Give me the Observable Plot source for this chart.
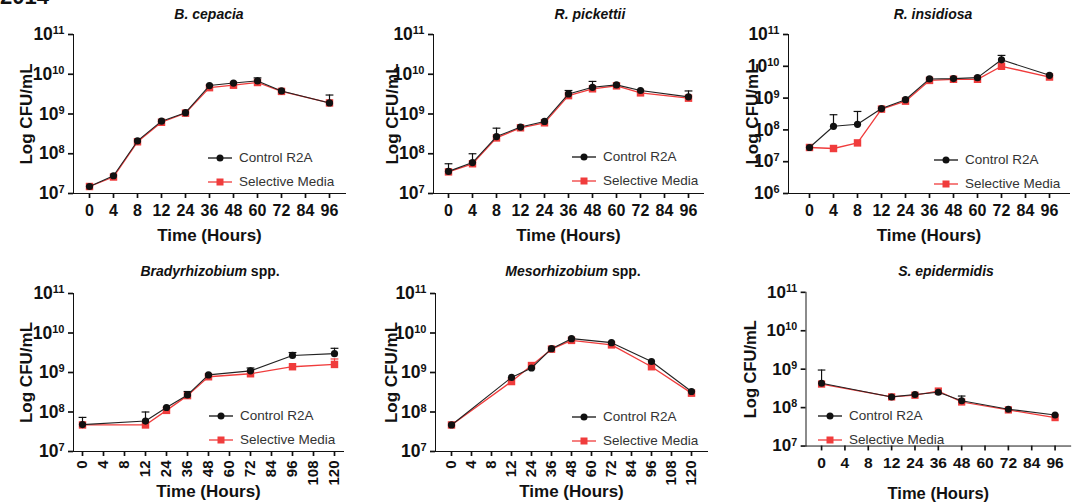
<!DOCTYPE html>
<html><head><meta charset="utf-8">
<script src="https://cdn.jsdelivr.net/npm/d3@7"></script>
<script src="https://cdn.jsdelivr.net/npm/@observablehq/plot@0.6"></script>
<style>
body{margin:0;width:1076px;height:504px;overflow:hidden;background:#fff;position:relative;font-family:Arial,"Liberation Sans",sans-serif}
.panel{position:absolute}
.ttl{position:absolute;transform:translateX(-50%);white-space:nowrap;font:bold 14px Arial,"Liberation Sans",sans-serif;color:#111}
.ttl i{font-style:italic}
.leg{position:absolute;font:13.5px Arial,"Liberation Sans",sans-serif;color:#333;line-height:24px}
.leg div{display:flex;align-items:center;white-space:nowrap}
.leg svg{margin-right:6px}
.year{position:absolute;left:0;top:-16px;font:bold 22px Arial,"Liberation Sans",sans-serif;color:#111}
</style></head>
<body>
<div class="year">2014</div>
<script>
// ---------- data ----------
const ticks96  = [0,4,8,12,24,36,48,60,72,84,96];
const ticks120 = [0,4,8,12,24,36,48,60,72,84,96,108,120];
const yTicks7  = [1e7,1e8,1e9,1e10,1e11];
const yTicks6  = [1e6,1e7,1e8,1e9,1e10,1e11];
const seriesNames = ["Control R2A","Selective Media"];

const cepaciaHours = [0,4,8,12,24,36,48,60,72,96];
const cepaciaControl   = [1.5e7,2.8e7,2.1e8,6.6e8,1.08e9,5.2e9,6.0e9,6.8e9,3.8e9,1.9e9];
const cepaciaSelective = [1.5e7,2.6e7,2.0e8,6.2e8,1.05e9,4.6e9,5.3e9,6.2e9,3.7e9,1.9e9];
const cepaciaUpper     = [null,null,null,null,null,null,null,8.1e9,null,3.0e9];

const pickettiiHours = [0,4,8,12,24,36,48,60,72,96];
const pickettiiControl   = [3.6e7,6.0e7,2.7e8,4.7e8,6.5e8,3.2e9,4.7e9,5.4e9,3.9e9,2.7e9];
const pickettiiSelective = [3.5e7,5.6e7,2.5e8,4.5e8,6.0e8,2.9e9,4.3e9,5.1e9,3.4e9,2.5e9];
const pickettiiUpper     = [5.6e7,1.0e8,4.4e8,null,null,3.9e9,6.6e9,null,null,3.8e9];

const insidiosaHours = [0,4,8,12,24,36,48,60,72,96];
const insidiosaControl   = [2.8e7,1.3e8,1.5e8,4.7e8,8.9e8,4.0e9,4.1e9,4.4e9,1.6e10,5.2e9];
const insidiosaSelective = [2.8e7,2.6e7,3.9e7,4.5e8,8.0e8,3.6e9,3.9e9,3.9e9,1.0e10,4.6e9];
const insidiosaUpper     = [null,3.0e8,3.8e8,null,null,null,null,null,2.2e10,null];

const bradyHours = [0,12,24,36,48,72,96,120];
const bradyControl   = [4.8e7,5.9e7,1.3e8,2.7e8,8.7e8,1.1e9,2.7e9,3.0e9];
const bradySelective = [4.7e7,4.7e7,1.1e8,2.6e8,7.8e8,9.3e8,1.4e9,1.6e9];
const bradyUpper     = [7.3e7,1.0e8,null,3.3e8,null,1.3e9,3.2e9,4.1e9];
const bradySelUpper  = [null,null,null,null,null,null,null,2.2e9];

const mesoHours = [0,12,24,36,48,72,96,120];
const mesoControl   = [4.7e7,7.5e8,1.3e9,4.0e9,7.2e9,5.7e9,1.9e9,3.3e8];
const mesoSelective = [4.7e7,5.9e8,1.5e9,3.9e9,6.5e9,5.0e9,1.4e9,3.0e8];
const mesoUpper     = [null,null,null,null,null,null,null,null];

const epiHours = [0,12,24,36,48,72,96];
const epiControl   = [4.3e8,1.9e8,2.2e8,2.5e8,1.5e8,9.1e7,6.4e7];
const epiSelective = [4.1e8,1.9e8,2.1e8,2.7e8,1.4e8,8.7e7,5.5e7];
const epiUpper     = [9.5e8,null,null,null,2.0e8,null,null];

// ---------- layout ----------
const RED = "#f03c3c", BLACK = "#111";
const panels = [
  {title:"<i>B. cepacia</i>", hours:cepaciaHours, ctrl:cepaciaControl, sel:cepaciaSelective, up:cepaciaUpper,
   xt:ticks96, yt:yTicks7, left:0, top:0, w:358, h:250, ml:73, mr:13, mt:34, mb:57, pad:0.5, rot:0, yoff:54, xoff:47, tp:6,
   tx:209, ty:6, lx:207, ly:146},
  {title:"<i>R. pickettii</i>", hours:pickettiiHours, ctrl:pickettiiControl, sel:pickettiiSelective, up:pickettiiUpper,
   xt:ticks96, yt:yTicks7, left:360, top:0, w:358, h:250, ml:73, mr:15, mt:34, mb:57, pad:0.5, rot:0, yoff:48, xoff:47, tp:6,
   tx:590, ty:6, lx:571, ly:145},
  {title:"<i>R. insidiosa</i>", hours:insidiosaHours, ctrl:insidiosaControl, sel:insidiosaSelective, up:insidiosaUpper,
   xt:ticks96, yt:yTicks6, left:716, top:0, w:360, h:250, ml:72, mr:7, mt:34, mb:57, pad:0.8, rot:0, yoff:43, xoff:47, tp:6,
   tx:933, ty:6, lx:933, ly:148},
  {title:"<i>Bradyrhizobium</i> spp.", hours:bradyHours, ctrl:bradyControl, sel:bradySelective, up:bradyUpper, selUp:bradySelUpper,
   xt:ticks120, yt:yTicks7, left:0, top:250, w:358, h:254, ml:73, mr:15, mt:43, mb:53, pad:0.35, rot:-90, yoff:54, xoff:45, tp:4,
   tx:210, ty:263, lx:208, ly:404},
  {title:"<i>Mesorhizobium</i> spp.", hours:mesoHours, ctrl:mesoControl, sel:mesoSelective, up:mesoUpper,
   xt:ticks120, yt:yTicks7, left:360, top:250, w:358, h:254, ml:75, mr:11, mt:43, mb:53, pad:0.5, rot:-90, yoff:51, xoff:45, tp:4,
   tx:573, ty:263, lx:571, ly:405},
  {title:"<i>S. epidermidis</i>", hours:epiHours, ctrl:epiControl, sel:epiSelective, up:epiUpper,
   xt:ticks96, yt:yTicks7, left:716, top:250, w:370, h:254, ml:92, mr:6, mt:43, mb:53, pad:0.48, rot:0, yoff:63, xoff:54, tp:6,
   tx:946, ty:263, lx:817, ly:404}
];

const cap = {draw(ctx, size){ const w = Math.sqrt(size) * 0.55; ctx.moveTo(-w,0); ctx.lineTo(w,0); }};

function swatch(color, square){
  const ns = "http://www.w3.org/2000/svg";
  const s = document.createElementNS(ns,"svg");
  s.setAttribute("width",26); s.setAttribute("height",10);
  s.innerHTML = `<line x1="1" y1="5" x2="25" y2="5" stroke="${color}" stroke-width="1.3"/>` +
    (square ? `<rect x="9.5" y="1.5" width="7" height="7" fill="${color}"/>` : `<circle cx="13" cy="5" r="3.5" fill="${color}"/>`);
  return s;
}

for (const p of panels) {
  const ctrlData = p.hours.map((h,i)=>({h, v:p.ctrl[i], u:p.up[i]}));
  const selData  = p.hours.map((h,i)=>({h, v:p.sel[i], u:p.selUp ? p.selUp[i] : null}));
  const ctrlErr = ctrlData.filter(d=>d.u != null);
  const selErr  = selData.filter(d=>d.u != null);
  const chart = Plot.plot({
    width:p.w, height:p.h,
    marginLeft:p.ml, marginRight:p.mr, marginTop:p.mt, marginBottom:p.mb,
    style:{fontFamily:"Arial, 'Liberation Sans', sans-serif", fontSize:"15px", fontWeight:"bold", color:"#111", background:"transparent", overflow:"visible"},
    x:{type:"point", domain:p.xt, padding:p.pad, line:true, tickSize:5, tickPadding:p.tp, tickRotate:p.rot,
       label:"Time (Hours)", labelAnchor:"center", labelOffset:p.xoff, labelArrow:false},
    y:{type:"log", domain:[p.yt[0], p.yt[p.yt.length-1]], ticks:p.yt, line:true, tickSize:5, tickPadding:4,
       tickFormat:d=>"10^"+Math.round(Math.log10(d)),
       label:"Log CFU/mL", labelAnchor:"center", labelOffset:p.yoff, labelArrow:false},
    marks:[
      Plot.ruleX(selErr, {x:"h", y1:"v", y2:"u", stroke:RED, strokeWidth:1.2}),
      Plot.dot(selErr, {x:"h", y:"u", symbol:cap, r:4, stroke:RED, strokeWidth:1.2}),
      Plot.line(selData, {x:"h", y:"v", stroke:RED, strokeWidth:1.3}),
      Plot.dot(selData, {x:"h", y:"v", symbol:"square", r:4.2, fill:RED}),
      Plot.ruleX(ctrlErr, {x:"h", y1:"v", y2:"u", stroke:BLACK, strokeWidth:1.2}),
      Plot.dot(ctrlErr, {x:"h", y:"u", symbol:cap, r:4, stroke:BLACK, strokeWidth:1.2}),
      Plot.line(ctrlData, {x:"h", y:"v", stroke:"#222", strokeWidth:1.1}),
      Plot.dot(ctrlData, {x:"h", y:"v", r:3.6, fill:BLACK})
    ]
  });
  const xtStrings = p.xt.map(String);
  // superscript exponents on y tick labels, and font sizes set inline
  d3.select(chart).selectAll("text").each(function(){
    const t = this.textContent.trim(), m = /^10\^(\d+)$/.exec(t);
    const sel = d3.select(this);
    if (m) {
      sel.text("10").style("font-size","17.5px");
      sel.append("tspan").attr("dy","-0.55em").style("font-size","11px").text(m[1]);
    } else if (xtStrings.includes(t)) {
      sel.style("font-size", p.rot ? "15px" : "16px");
    } else if (t === "Time (Hours)" || t === "Log CFU/mL") {
      sel.style("font-size","17px");
    }
  });
  d3.select(chart).selectAll('g[aria-label*="axis"] path, g[aria-label*="axis"] line').style("stroke-width","1.7");
  const wrap = document.createElement("div");
  wrap.className = "panel";
  wrap.style.left = p.left+"px"; wrap.style.top = p.top+"px";
  wrap.appendChild(chart);
  document.body.appendChild(wrap);

  const t = document.createElement("div");
  t.className = "ttl"; t.innerHTML = p.title;
  t.style.left = p.tx+"px"; t.style.top = p.ty+"px";
  document.body.appendChild(t);

  const lg = document.createElement("div");
  lg.className = "leg"; lg.style.left = p.lx+"px"; lg.style.top = p.ly+"px";
  seriesNames.forEach((name,i)=>{
    const row = document.createElement("div");
    row.appendChild(swatch(i===0?BLACK:RED, i===1));
    row.appendChild(document.createTextNode(name));
    lg.appendChild(row);
  });
  document.body.appendChild(lg);
}
</script>
</body></html>
